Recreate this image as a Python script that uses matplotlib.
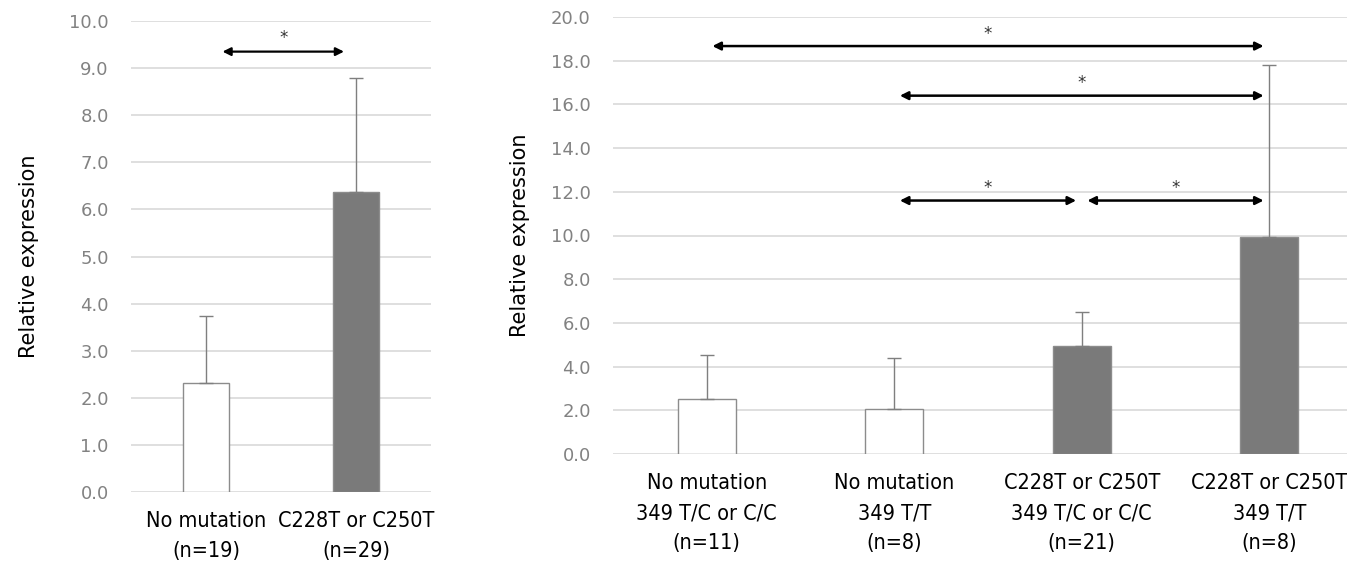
import numpy as np
import matplotlib
matplotlib.use('Agg')
import matplotlib.pyplot as plt
from matplotlib import font_manager

# ── 数据 ──
left_labels = ["No mutation\n(n=19)", "C228T or C250T\n(n=29)"]
left_means = [2.31, 6.37]
left_err = [1.43, 2.43]
left_colors = ['white', '#7a7a7a']

right_labels = ["No mutation\n349 T/C or C/C\n(n=11)", "No mutation\n349 T/T\n(n=8)",
                "C228T or C250T\n349 T/C or C/C\n(n=21)", "C228T or C250T\n349 T/T\n(n=8)"]
right_means = [2.52, 2.06, 4.92, 9.95]
right_err = [2.0, 2.34, 1.58, 7.85]
right_colors = ['white', 'white', '#7a7a7a', '#7a7a7a']

# 显著性标记: (起, 止, 高度)
left_sig = [(0.08, 0.95, 9.35)]
right_sig = [(0, 3, 18.67), (1, 3, 16.4), (1, 2, 11.6), (2, 3, 11.6)]

# 窄字体 (有则用)
names = {f.name for f in font_manager.fontManager.ttflist}
narrow_fams = [n for n in ('Liberation Sans Narrow', 'DejaVu Sans Condensed') if n in names]
x_font = dict(family=narrow_fams[0]) if narrow_fams else dict(family='DejaVu Sans', stretch='condensed')

W, H = 1347, 564
fig = plt.figure(figsize=(W / 100, H / 100), dpi=100)
ax1 = fig.add_axes([131 / W, 1 - 492 / H, 300 / W, 471 / H])
ax2 = fig.add_axes([613 / W, 1 - 454 / H, 750 / W, 437 / H])

tick_col = '#828282'
grid_col = '#dcdcdc'


def draw(ax, labels, means, err, colors, ymax, step, sig, arrow_lw):
    x = np.arange(len(means))
    ax.bar(x, means, width=0.31, color=colors, edgecolor='#8c8c8c', lw=1, zorder=3)
    ax.errorbar(x, means, yerr=[np.zeros(len(err)), err], fmt='none',
                ecolor='#7f7f7f', elinewidth=1, capsize=5, capthick=1, zorder=4)
    ax.set_xlim(-0.5, len(means) - 0.5)
    ax.set_ylim(0, ymax)
    ticks = np.arange(0, ymax + step / 2, step)
    ax.set_yticks(ticks)
    ax.set_yticklabels([f"{v:.1f}" for v in ticks])
    ax.set_xticks(x)
    ax.set_xticklabels(labels, fontsize=15.5, linespacing=1.6, **x_font)
    ax.tick_params(axis='y', colors=tick_col, labelsize=13, length=0, pad=16)
    ax.tick_params(axis='x', length=0, pad=14, labelcolor='black')
    ax.grid(axis='y', color=grid_col, lw=1.3, zorder=0)
    for s in ax.spines.values():
        s.set_visible(False)
    for a, b, y in sig:
        ax.annotate('', xy=(b - 0.03, y), xytext=(a + 0.03, y),
                    arrowprops=dict(arrowstyle='<|-|>', color='black', lw=arrow_lw,
                                    mutation_scale=12, shrinkA=0, shrinkB=0), zorder=5)
        ax.text((a + b) / 2, y + 0.028 * ymax, '*', ha='center', va='center',
                fontsize=12, color='#333333')


draw(ax1, left_labels, left_means, left_err, left_colors, 10, 1.0, left_sig, 1.6)
draw(ax2, right_labels, right_means, right_err, right_colors, 20, 2.0, right_sig, 1.8)

ax1.set_ylabel('Relative expression', fontsize=15, labelpad=22)
ax2.set_ylabel('Relative expression', fontsize=15, labelpad=15)

fig.savefig('out.png', dpi=100)
